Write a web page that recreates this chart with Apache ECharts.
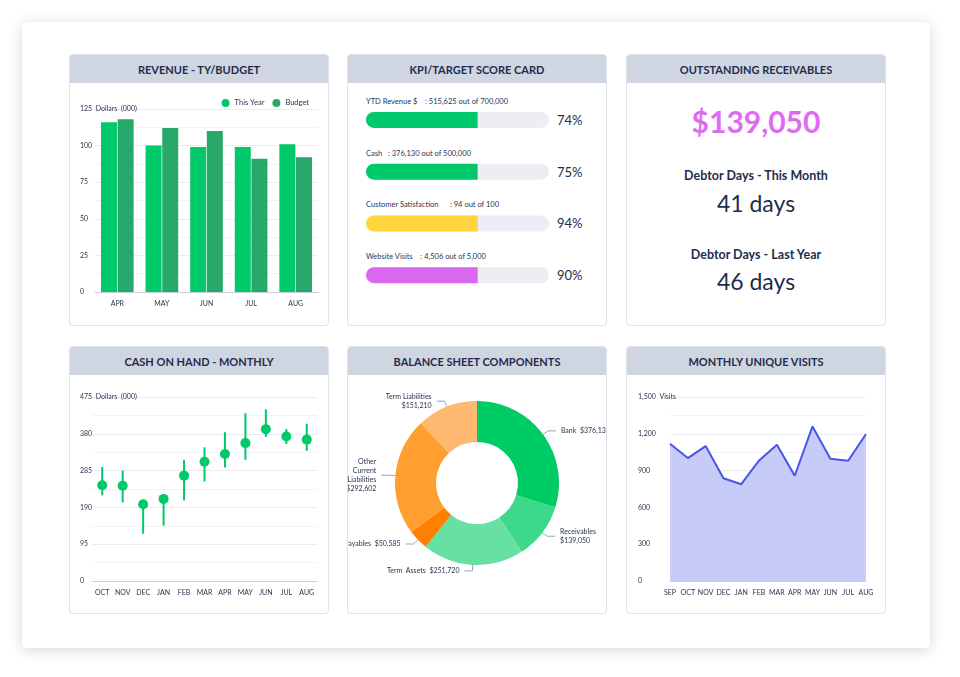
<!DOCTYPE html>
<html>
<head>
<meta charset="utf-8">
<script src="https://cdn.jsdelivr.net/npm/echarts@6/dist/echarts.min.js"></script>
<style>
  body { margin: 0; width: 960px; height: 677px; background: #fff; font-family: Lato, 'Open Sans', sans-serif; position: relative; overflow: hidden; }
  .panel { position: absolute; left: 22px; top: 22px; width: 908px; height: 626px; background: #fff; border-radius: 4px; box-shadow: 0 2px 14px rgba(0,0,0,0.16); }
  .card { position: absolute; width: 258px; background: #fff; border: 1px solid #dde1e8; border-radius: 4px; overflow: hidden; }
  .hd { height: 28px; line-height: 29px; background: #cfd5e1; color: #1f2d4d; font-weight: bold; font-size: 11px; text-align: center; }
  .abs { position: absolute; }
  .kt { font-size: 7.5px; color: #2b3550; left: 18px; }
  .kp { font-size: 13px; color: #1f2d4d; left: 209px; }
  .rc { width: 100%; text-align: center; color: #1f2d4d; }
</style>
</head>
<body>
<div class="panel"></div>

<div class="card" style="left:69px;top:54px;height:270px"><div class="hd">REVENUE - TY/BUDGET</div></div>
<div class="card" style="left:347px;top:54px;height:270px"><div class="hd">KPI/TARGET SCORE CARD</div>
  <div class="abs kt" style="top:42px">YTD Revenue $&nbsp;&nbsp;&nbsp;&nbsp;: 515,625 out of 700,000</div>
  <div class="abs kp" style="top:57px">74%</div>
  <div class="abs kt" style="top:94px">Cash&nbsp;&nbsp;&nbsp;: 376,130 out of 500,000</div>
  <div class="abs kp" style="top:109px">75%</div>
  <div class="abs kt" style="top:145px">Customer Satisfaction&nbsp;&nbsp;&nbsp;&nbsp;&nbsp;&nbsp;: 94 out of 100</div>
  <div class="abs kp" style="top:160px">94%</div>
  <div class="abs kt" style="top:197px">Website Visits&nbsp;&nbsp;&nbsp;&nbsp;: 4,506 out of 5,000</div>
  <div class="abs kp" style="top:212px">90%</div>
</div>
<div class="card" style="left:626px;top:54px;height:270px"><div class="hd">OUTSTANDING RECEIVABLES</div>
  <div class="abs rc" style="top:48px;font-size:30px;font-weight:bold;color:#dd6cf2">$139,050</div>
  <div class="abs rc" style="top:113px;font-size:12.5px;font-weight:bold">Debtor Days - This Month</div>
  <div class="abs rc" style="top:134px;font-size:23px">41 days</div>
  <div class="abs rc" style="top:192px;font-size:12.5px;font-weight:bold">Debtor Days - Last Year</div>
  <div class="abs rc" style="top:212px;font-size:23px">46 days</div>
</div>
<div class="card" style="left:69px;top:346px;height:266px"><div class="hd">CASH ON HAND - MONTHLY</div></div>
<div class="card" style="left:347px;top:346px;height:266px"><div class="hd">BALANCE SHEET COMPONENTS</div></div>
<div class="card" style="left:626px;top:346px;height:266px"><div class="hd">MONTHLY UNIQUE VISITS</div></div>

<div id="rev" class="abs" style="left:70px;top:84px;width:258px;height:240px"></div>
<div id="kpi" class="abs" style="left:348px;top:84px;width:258px;height:220px"></div>
<div id="cash" class="abs" style="left:70px;top:376px;width:258px;height:236px"></div>
<div id="bal" class="abs" style="left:348px;top:376px;width:258px;height:236px"></div>
<div id="vis" class="abs" style="left:627px;top:376px;width:258px;height:236px"></div>

<script>
// data
const revMonths = ['APR', 'MAY', 'JUN', 'JUL', 'AUG'];
const revThisYear = [116, 100, 99, 99, 101];
const revBudget = [118, 112, 110, 91, 92];

const kpiNames = ['YTD Revenue', 'Cash', 'Customer Satisfaction', 'Website Visits'];
const kpiFill = [61, 61, 61, 61]; // filled share of the track as drawn
const kpiColors = ['#00c96b', '#00c96b', '#ffd53e', '#d96af0'];

const cashMonths = ['OCT', 'NOV', 'DEC', 'JAN', 'FEB', 'MAR', 'APR', 'MAY', 'JUN', 'JUL', 'AUG'];
const cashValue = [247, 246, 198, 212, 272, 308, 328, 356, 392, 373, 365];
const cashLow = [221, 203, 122, 143, 208, 257, 293, 313, 372, 354, 336];
const cashHigh = [294, 285, 198, 212, 313, 345, 384, 433, 443, 392, 406];

const balNames = ['Bank', 'Receivables', 'Term  Assets', 'Payables', 'Other\nCurrent\nLiabilities', 'Term Liabilities'];
const balValues = [376130, 139050, 251720, 50585, 292602, 151210];
const balColors = ['#00cc66', '#3dd98a', '#66e0a3', '#ff8000', '#ff9f30', '#ffb870'];

const visMonths = ['SEP', 'OCT', 'NOV', 'DEC', 'JAN', 'FEB', 'MAR', 'APR', 'MAY', 'JUN', 'JUL', 'AUG'];
const visValues = [1119, 1002, 1100, 838, 789, 983, 1111, 858, 1260, 996, 980, 1198];

const txt = '#2b3550';
const font = 'Lato, sans-serif';
const split = { lineStyle: { color: '#e9ecf2' } };
const minor = { show: true, lineStyle: { color: '#f1f3f7' } };
const xLine = { lineStyle: { color: '#c9cfdb' } };

function yAx(max, interval, unit, margin) {
  return {
    type: 'value', min: 0, max, interval, splitNumber: 2,
    axisLabel: { fontSize: 7, color: txt, fontFamily: font, align: 'left', margin,
      formatter: v => v === max ? (max >= 1000 ? v.toLocaleString('en-US') : v) + '  ' + unit : (v >= 1000 ? v.toLocaleString('en-US') : v) },
    splitLine: split, minorTick: { splitNumber: 2 }, minorSplitLine: minor, axisLine: { show: false }, axisTick: { show: false },
  };
}

echarts.init(document.getElementById('rev')).setOption({
  animation: false,
  legend: { right: 14, top: 10, itemWidth: 8, itemHeight: 8, icon: 'circle', itemGap: 8,
    textStyle: { fontSize: 7.5, color: txt, fontFamily: font } },
  grid: { left: 25, right: 10, top: 25, bottom: 32 },
  xAxis: { type: 'category', data: revMonths, axisTick: { show: false }, axisLine: xLine,
    axisLabel: { fontSize: 7, color: txt, fontFamily: font } },
  yAxis: yAx(125, 25, 'Dollars  (000)', 15),
  series: [
    { name: 'This Year', type: 'bar', data: revThisYear, barWidth: 16, barGap: '4%', itemStyle: { color: '#00c96b' } },
    { name: 'Budget', type: 'bar', data: revBudget, barWidth: 16, itemStyle: { color: '#28a96b' } },
  ],
});

echarts.init(document.getElementById('kpi')).setOption({
  animation: false,
  grid: { left: 18, right: 57, top: 10, bottom: 3 },
  xAxis: { type: 'value', min: 0, max: 100, show: false },
  yAxis: { type: 'category', data: kpiNames, inverse: true, show: false },
  series: [{
    type: 'bar', barWidth: 16, showBackground: true,
    backgroundStyle: { color: '#eceef3', borderRadius: 8 },
    data: kpiFill.map((v, i) => ({ value: v, itemStyle: { color: kpiColors[i], borderRadius: [8, 0, 0, 8] } })),
  }],
});

echarts.init(document.getElementById('cash')).setOption({
  animation: false,
  grid: { left: 22, right: 11, top: 21, bottom: 31 },
  xAxis: { type: 'category', data: cashMonths, axisTick: { show: false }, axisLine: xLine,
    axisLabel: { fontSize: 7, color: txt, fontFamily: font, interval: 0 } },
  yAxis: yAx(475, 95, 'Dollars  (000)', 12),
  series: [{
    type: 'custom',
    data: cashMonths.map((m, i) => [i, cashValue[i], cashLow[i], cashHigh[i]]),
    renderItem: (params, api) => {
      const c = api.coord([api.value(0), api.value(1)]);
      const lo = api.coord([api.value(0), api.value(2)]);
      const hi = api.coord([api.value(0), api.value(3)]);
      return { type: 'group', children: [
        { type: 'line', shape: { x1: c[0], y1: lo[1], x2: c[0], y2: hi[1] }, style: { stroke: '#00c96b', lineWidth: 2 } },
        { type: 'circle', shape: { cx: c[0], cy: c[1], r: 5 }, style: { fill: '#00c96b' } },
      ] };
    },
  }],
});

echarts.init(document.getElementById('bal')).setOption({
  animation: false,
  series: [{
    type: 'pie', radius: [41, 82], center: [129, 107], startAngle: 90,
    data: balNames.map((n, i) => ({ name: n, value: balValues[i], itemStyle: { color: balColors[i] } })),
    label: { fontSize: 7, color: txt, fontFamily: font, lineHeight: 9, overflow: 'none',
      formatter: p => {
        const v = '$' + p.value.toLocaleString('en-US');
        return (p.name === 'Bank' || p.name === 'Payables' || p.name === 'Term  Assets') ? p.name + '  ' + v : p.name + '\n' + v;
      } },
    labelLine: { length: 6, length2: 8, lineStyle: { color: '#9aa3b5' } },
  }],
});

echarts.init(document.getElementById('vis')).setOption({
  animation: false,
  grid: { left: 43, right: 19, top: 21, bottom: 31 },
  xAxis: { type: 'category', data: visMonths, boundaryGap: false, axisTick: { show: false }, axisLine: xLine,
    axisLabel: { fontSize: 7, color: txt, fontFamily: font, interval: 0 } },
  yAxis: yAx(1500, 300, 'Visits', 32),
  series: [{ type: 'line', data: visValues, symbol: 'none',
    lineStyle: { color: '#4a55e8', width: 2 }, areaStyle: { color: '#c6cbf7', opacity: 1 } }],
});
</script>
</body>
</html>
